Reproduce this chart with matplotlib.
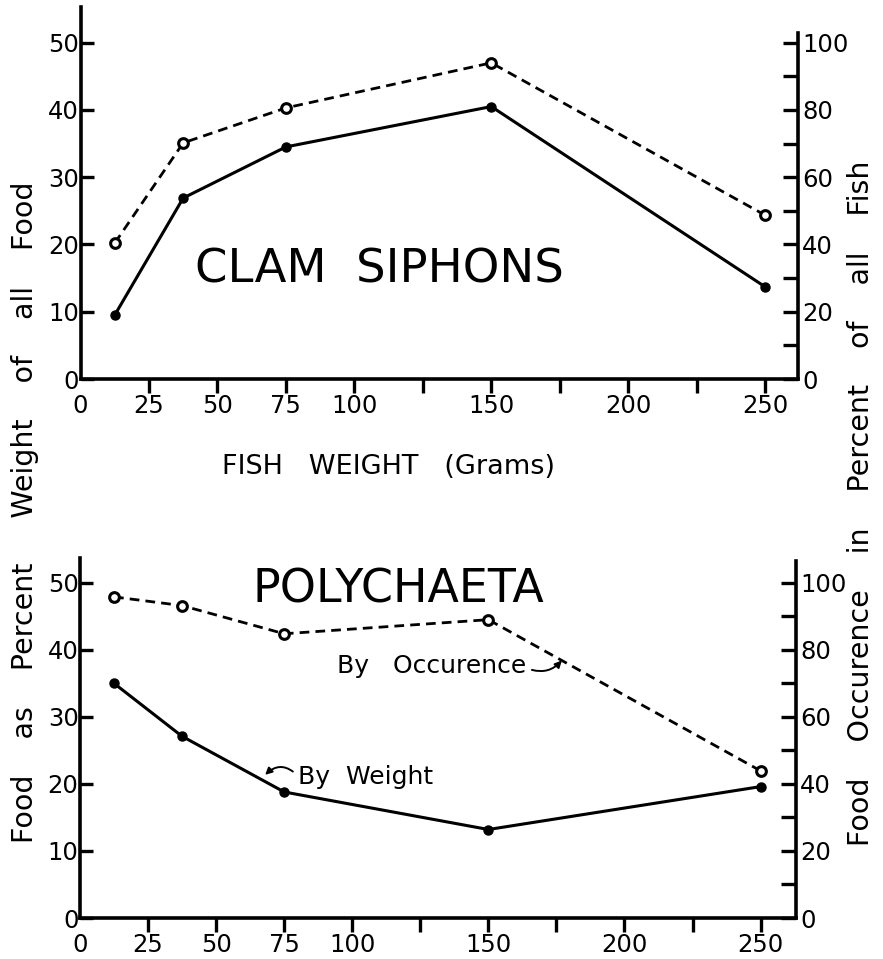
import numpy as np
import matplotlib.pyplot as plt

# fish weight classes (grams)
fish_weight = [12.5, 37.5, 75, 150, 250]

# clam siphons
clam_by_weight = [9.5, 26.9, 34.5, 40.5, 13.7]       # % of food weight
clam_by_occurence = [40.4, 70.2, 80.6, 94.0, 48.7]   # % of fish

# polychaeta
poly_by_weight = [35.0, 27.1, 18.8, 13.2, 19.6]
poly_by_occurence = [95.8, 93.2, 84.8, 89.0, 43.9]

x_ticks = [0, 25, 50, 75, 100, 125, 150, 175, 200, 225, 250]
x_tick_labels = ['0', '25', '50', '75', '100', '', '150', '', '200', '', '250']
left_ticks = [0, 10, 20, 30, 40, 50]
right_ticks = [0, 10, 20, 30, 40, 50, 60, 70, 80, 90, 100]
right_tick_labels = ['0', '', '20', '', '40', '', '60', '', '80', '', '100']

plt.rcParams['font.family'] = ['DejaVu Sans']
W, H = 883, 959
fig = plt.figure(figsize=(W / 100, H / 100), dpi=100)


def px_axes(x0, x1, y_bottom, y_top):
    return fig.add_axes([x0 / W, 1 - y_bottom / H, (x1 - x0) / W, (y_bottom - y_top) / H])


def style_panel(ax, ax2, xmax, ymax, right_top):
    ax.set_xlim(0, xmax)
    ax.set_ylim(0, ymax)
    ax2.set_ylim(0, ymax * 2)
    for s in ['top', 'right']:
        ax.spines[s].set_visible(False)
    for s in ['top', 'left', 'bottom']:
        ax2.spines[s].set_visible(False)
    for s in ['left', 'bottom']:
        ax.spines[s].set_linewidth(2.6)
    ax2.spines['right'].set_linewidth(2.6)
    ax2.spines['right'].set_bounds(0, right_top)

    ax.set_xticks(x_ticks)
    ax.set_xticklabels(x_tick_labels)
    ax.tick_params(axis='x', direction='out', length=10, width=2.4, labelsize=17.5, pad=1)
    ax.xaxis.get_major_ticks()[0].tick1line.set_visible(False)

    ax.set_yticks(left_ticks)
    ax.tick_params(axis='y', direction='in', length=9, width=2.4, labelsize=17.5, pad=1)

    ax2.set_yticks(right_ticks)
    ax2.set_yticklabels(right_tick_labels)
    ax2.tick_params(axis='y', direction='in', length=11, width=2.4, labelsize=17.5, pad=3)


def draw_lines(ax, ax2, by_weight, by_occurence):
    ax.plot(fish_weight, by_weight, color='black', lw=2.2, marker='o',
            markersize=6.5, zorder=3)
    ax2.plot(fish_weight, by_occurence, color='black', lw=2.0, dashes=(3.5, 2.2),
             marker='o', markersize=7, markerfacecolor='white',
             markeredgewidth=2.2, zorder=3)


# top panel: clam siphons
ax_top = px_axes(80.5, 798, 379, 7)
ax_top2 = ax_top.twinx()
style_panel(ax_top, ax_top2, 262, 55.3, 103)
draw_lines(ax_top, ax_top2, clam_by_weight, clam_by_occurence)
ax_top.text(109, 16.2, 'CLAM  SIPHONS', fontsize=33.5, ha='center', va='center')

# bottom panel: polychaeta
ax_bot = px_axes(80, 796, 918, 558)
ax_bot2 = ax_bot.twinx()
style_panel(ax_bot, ax_bot2, 263, 53.7, 106.6)
draw_lines(ax_bot, ax_bot2, poly_by_weight, poly_by_occurence)
ax_bot.text(117, 49, 'POLYCHAETA', fontsize=33, ha='center', va='center')

# labels with curved arrows onto the lines
x_occ = 177
ax_bot2.annotate('By   Occurence', xy=(x_occ, np.interp(x_occ, fish_weight, poly_by_occurence)),
                 xytext=(x_occ - 13, 75.3), fontsize=18, ha='right', va='center',
                 arrowprops=dict(arrowstyle='-|>', color='black', lw=1.4,
                                 connectionstyle='arc3,rad=0.35', mutation_scale=10,
                                 relpos=(1, 0.4), shrinkA=2, shrinkB=0))
x_wt = 68
ax_bot.annotate('By  Weight', xy=(x_wt, np.interp(x_wt, fish_weight, poly_by_weight) + 1.0),
                xytext=(x_wt + 12, 21.0), fontsize=18, ha='left', va='center',
                arrowprops=dict(arrowstyle='-|>', color='black', lw=1.4,
                                connectionstyle='arc3,rad=0.5', mutation_scale=10,
                                relpos=(0, 0.55), shrinkA=2, shrinkB=0))

# shared axis titles
fig.text(388 / W, 1 - 467 / H, 'FISH   WEIGHT   (Grams)', fontsize=19.5,
         ha='center', va='center')
fig.text(25 / W, 1 - 512 / H, 'Food    as    Percent     Weight    of    all    Food',
         fontsize=20.5, rotation=90, ha='center', va='center')
fig.text(861 / W, 1 - 503 / H, 'Food    Occurence    in    Percent    of    all    Fish',
         fontsize=20.5, rotation=90, ha='center', va='center')

fig.savefig('out.png', dpi=100)
